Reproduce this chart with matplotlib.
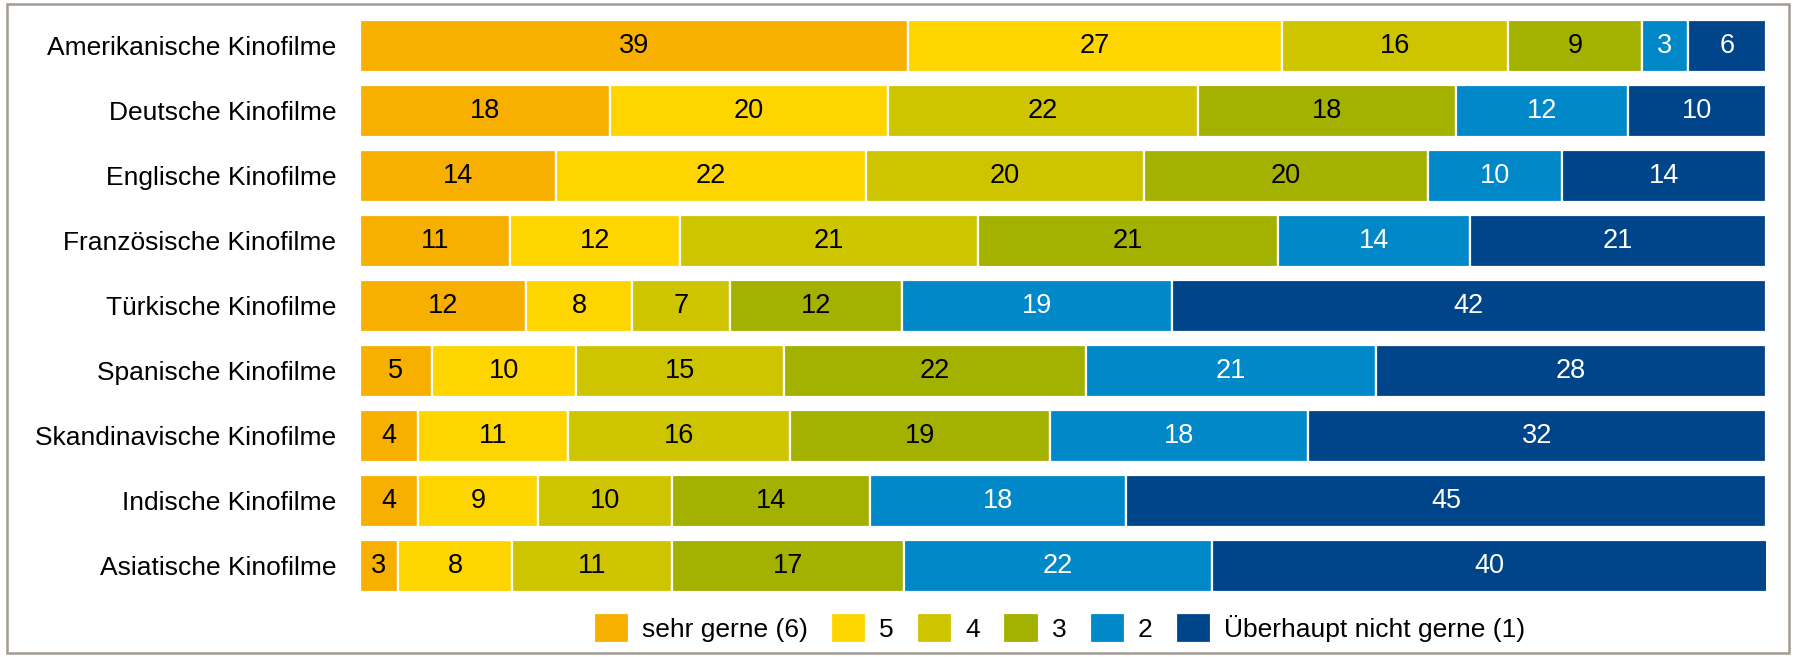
import matplotlib.pyplot as plt
from matplotlib.patches import Rectangle
import numpy as np

plt.rcParams["font.family"] = ["Liberation Sans", "DejaVu Sans"]

# Kategorien (von oben nach unten)
kategorien = [
    "Amerikanische Kinofilme",
    "Deutsche Kinofilme",
    "Englische Kinofilme",
    "Französische Kinofilme",
    "Türkische Kinofilme",
    "Spanische Kinofilme",
    "Skandinavische Kinofilme",
    "Indische Kinofilme",
    "Asiatische Kinofilme",
]

stufen = ["sehr gerne (6)", "5", "4", "3", "2", "Überhaupt nicht gerne (1)"]

# Anteile in % (Balkenlängen, ungerundet geschätzt)
sehr_gerne = [38.98, 17.78, 13.94, 10.67, 11.81, 5.12, 4.13, 4.13, 2.70]
stufe_5 = [26.60, 19.77, 22.05, 12.09, 7.54, 10.24, 10.67, 8.53, 8.11]
stufe_4 = [16.07, 22.05, 19.77, 21.19, 6.97, 14.79, 15.79, 9.53, 11.38]
stufe_3 = [9.53, 18.35, 20.20, 21.34, 12.23, 21.48, 18.49, 14.08, 16.50]
stufe_2 = [3.27, 12.23, 9.53, 13.66, 19.20, 20.63, 18.35, 18.21, 21.90]
gar_nicht = [5.55, 9.82, 14.51, 21.05, 42.25, 27.74, 32.57, 45.52, 39.54]

# gedruckte Werte (gerundet wie im Original)
zahlen_sehr_gerne = [39, 18, 14, 11, 12, 5, 4, 4, 3]
zahlen_5 = [27, 20, 22, 12, 8, 10, 11, 9, 8]
zahlen_4 = [16, 22, 20, 21, 7, 15, 16, 10, 11]
zahlen_3 = [9, 18, 20, 21, 12, 22, 19, 14, 17]
zahlen_2 = [3, 12, 10, 14, 19, 21, 18, 18, 22]
zahlen_gar_nicht = [6, 10, 14, 21, 42, 28, 32, 45, 40]

farben = ["#F8B000", "#FFD500", "#CEC400", "#A3B100", "#0088C9", "#004489"]
textfarben = ["black", "black", "black", "black", "white", "white"]

werte = [sehr_gerne, stufe_5, stufe_4, stufe_3, stufe_2, gar_nicht]
zahlen = [zahlen_sehr_gerne, zahlen_5, zahlen_4, zahlen_3, zahlen_2, zahlen_gar_nicht]

fig = plt.figure(figsize=(17.97, 6.57), dpi=100)
# grauer Rahmen
fig.patches.append(Rectangle((7 / 1797, 4 / 657), 1782 / 1797, 649 / 657,
                             transform=fig.transFigure, fill=False,
                             edgecolor="#A39B94", linewidth=1.8))

ax = fig.add_axes([0.2003, 0.099, 0.7824, 0.8706])

y = np.arange(len(kategorien))
links = np.zeros(len(kategorien))
for i in range(len(stufen)):
    bars = ax.barh(y, werte[i], left=links, height=0.8, color=farben[i],
                   edgecolor="white", linewidth=1.6, label=stufen[i])
    for j, b in enumerate(bars):
        ax.text(links[j] + werte[i][j] / 2, y[j], str(zahlen[i][j]),
                ha="center", va="center", fontsize=19.5, color=textfarben[i])
    links += np.array(werte[i])

ax.set_xlim(0, 100)
ax.set_ylim(len(kategorien) - 0.6, -0.4)
ax.set_yticks(y)
ax.set_yticklabels(kategorien, fontsize=19)
ax.tick_params(axis="y", length=0, pad=17)
ax.set_xticks([])
for s in ax.spines.values():
    s.set_visible(False)

fig.legend(*ax.get_legend_handles_labels(), loc="center",
           bbox_to_anchor=(0.5896, 0.044), ncol=6, frameon=False,
           fontsize=19, handlelength=1.33, handleheight=1.4, handletextpad=0.5,
           columnspacing=0.88, borderpad=0)

fig.savefig("out.png", dpi=100)
